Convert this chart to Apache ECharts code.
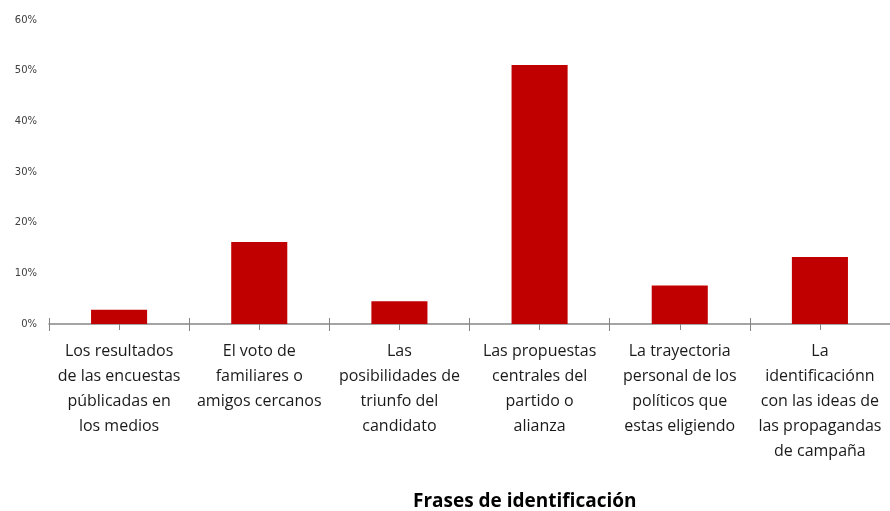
<!DOCTYPE html>
<html style="height: 100%">
<head>
    <meta charset="utf-8">
</head>
<body style="margin: 0">
    <div id="container" style="width: 890px; height: 511px;"></div>
    <script type="text/javascript" src="https://cdn.jsdelivr.net/npm/echarts@6/dist/echarts.min.js"></script>
    <script type="text/javascript">
// datos
var categorias = [
    'Los resultados\nde las encuestas\npúblicadas en\nlos medios',
    'El voto de\nfamiliares o\namigos cercanos',
    'Las\nposibilidades de\ntriunfo del\ncandidato',
    'Las propuestas\ncentrales del\npartido o\nalianza',
    'La trayectoria\npersonal de los\npolíticos que\nestas eligiendo',
    'La\nidentificaciónn\ncon las ideas de\nlas propagandas\nde campaña'
];
var valores = [2.8, 16.2, 4.5, 51.1, 7.6, 13.2];
var yTicks = [0, 10, 20, 30, 40, 50, 60];
var tituloX = 'Frases de identificación';

var dom = document.getElementById('container');
var myChart = echarts.init(dom);
var gris = '#868686';

// ejes extra solo para dibujar las marcas que cruzan la linea
function ejeMarcas(alinear, interior, largo) {
    return {
        type: 'category',
        data: categorias,
        position: 'bottom',
        axisLine: { show: false },
        axisLabel: { show: false },
        axisTick: { show: true, alignWithLabel: alinear, inside: interior, length: largo, lineStyle: { color: gris } }
    };
}

var option = {
    animation: false,
    title: {
        text: tituloX,
        left: 408,
        top: 487,
        textStyle: { fontFamily: 'Open Sans', fontSize: 19, fontWeight: 'bold', color: '#000' }
    },
    grid: { left: 49, right: 0, top: 20, bottom: 187, containLabel: false },
    xAxis: [{
        type: 'category',
        data: categorias,
        axisLine: { lineStyle: { color: gris, width: 1.5 } },
        axisTick: { show: true, length: 7, lineStyle: { color: gris } },
        axisLabel: {
            interval: 0,
            margin: 15,
            color: '#1a1a1a',
            fontFamily: 'Open Sans',
            fontSize: 16,
            lineHeight: 25
        }
    },
        ejeMarcas(false, true, 6),
        ejeMarcas(true, false, 6),
        ejeMarcas(true, true, 4)
    ],
    yAxis: {
        type: 'value',
        min: yTicks[0],
        max: yTicks[yTicks.length - 1],
        interval: 10,
        axisLine: { show: false },
        axisTick: { show: false },
        splitLine: { show: false },
        axisLabel: {
            margin: 12,
            color: '#404040',
            fontFamily: 'DejaVu Sans',
            fontSize: 10,
            formatter: '{value}%'
        }
    },
    series: [{
        type: 'bar',
        data: valores,
        barWidth: '40%',
        itemStyle: { color: '#C00000' }
    }]
};

myChart.setOption(option, true);
    </script>
</body>
</html>
